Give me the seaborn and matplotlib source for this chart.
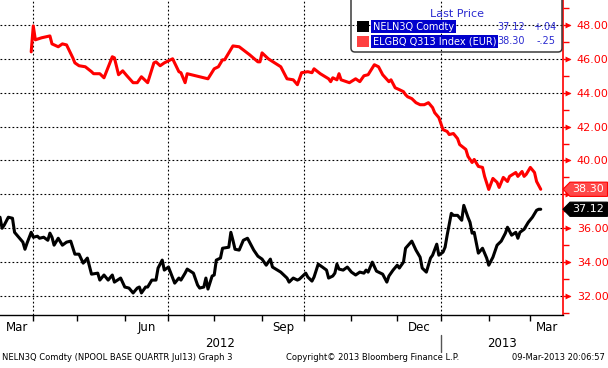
import numpy as np
import pandas as pd
import matplotlib
matplotlib.use("Agg")
import matplotlib.pyplot as plt
import matplotlib.transforms as mtransforms
from matplotlib.patches import FancyBboxPatch, Polygon, Rectangle
import seaborn as sns

# ---------------- data ----------------
START = "2012-03-09"          # first trading day shown (x = trading-day number since START)
END_PAD_DAYS = 270.7          # right edge of the axis in trading days

neln_day = [0, 1, 2, 4, 6, 7, 9, 11, 12, 13, 15, 16, 18, 19, 21, 23, 24, 25, 26, 28,
            30, 32, 34, 36, 38, 40, 42, 44, 47, 48, 50, 52, 54, 55, 58, 60, 62, 64, 66, 67,
            68, 70, 71, 73, 75, 76, 78, 79, 81, 84, 86, 87, 89, 90, 93, 95, 96, 98, 99, 100,
            102, 103, 104, 106, 107, 110, 111, 112, 113, 115, 117, 119, 120, 122, 124, 126, 128, 130, 131, 135,
            137, 138, 139, 141, 143, 144, 147, 148, 150, 151, 153, 155, 157, 158, 160, 161, 162, 163, 165, 167,
            169, 171, 173, 175, 176, 177, 179, 181, 183, 184, 186, 187, 189, 191, 192, 194, 195, 198, 200, 202,
            203, 205, 207, 208, 210, 211, 213, 214, 215, 217, 218, 220, 222, 223, 225, 226, 227, 228, 230, 232,
            234, 235, 237, 239, 241, 243, 244, 246, 248, 249, 250, 252, 254, 256, 258, 259, 260]
neln_price = [36.65, 36.00, 36.18, 36.65, 36.59, 35.76, 35.47, 35.18, 34.76, 35.12, 35.76, 35.47, 35.53, 35.41, 35.47, 35.29, 35.71, 35.47, 35.00, 35.41,
              35.00, 35.18, 35.24, 34.47, 34.47, 33.94, 34.24, 33.29, 33.35, 32.94, 33.24, 32.94, 33.24, 32.82, 33.06, 32.53, 32.47, 32.18, 32.47, 32.53,
              32.18, 32.53, 32.53, 32.94, 32.94, 33.65, 34.12, 33.53, 33.71, 32.76, 33.06, 32.94, 33.35, 33.59, 33.35, 32.65, 32.47, 32.53, 33.06, 32.41,
              33.18, 33.24, 34.12, 34.24, 34.82, 34.88, 35.76, 35.29, 34.76, 34.71, 35.29, 35.41, 35.18, 34.71, 34.35, 34.18, 33.82, 34.18, 33.71, 33.41,
              33.18, 33.06, 32.82, 33.06, 32.94, 33.00, 33.35, 33.12, 32.88, 33.12, 33.88, 33.71, 33.53, 33.06, 33.18, 33.35, 33.88, 33.59, 33.53, 33.71,
              33.41, 33.24, 33.41, 33.35, 33.53, 33.41, 34.00, 33.47, 33.35, 33.29, 32.82, 33.18, 33.53, 33.82, 33.65, 34.00, 34.82, 35.24, 34.71, 34.29,
              33.65, 33.41, 34.24, 34.41, 35.06, 34.41, 34.59, 34.88, 35.59, 36.88, 36.76, 36.76, 36.47, 37.35, 36.65, 36.35, 35.71, 35.76, 34.53, 34.82,
              34.24, 33.82, 34.29, 35.00, 35.24, 35.71, 36.06, 35.59, 35.76, 35.41, 35.76, 35.94, 36.35, 36.65, 37.06, 37.12, 37.12]

elgb_day = [15, 16, 17, 20, 24, 25, 28, 30, 32, 35, 36, 38, 41, 44, 45, 48, 50, 54, 55, 57,
            59, 61, 64, 66, 68, 71, 74, 75, 77, 79, 83, 86, 87, 89, 90, 100, 103, 105, 107, 108,
            112, 115, 120, 124, 125, 126, 129, 135, 138, 141, 143, 145, 148, 150, 151, 154, 158, 159, 160, 162,
            163, 164, 168, 171, 173, 175, 177, 180, 182, 184, 187, 188, 190, 192, 194, 195, 196, 198, 200, 202,
            204, 206, 208, 209, 211, 213, 215, 216, 218, 220, 221, 224, 225, 227, 228, 230, 232, 233, 235, 237,
            239, 240, 242, 244, 245, 248, 249, 251, 252, 253, 255, 257, 258, 259, 260]
elgb_price = [46.41, 47.94, 47.12, 47.24, 47.35, 46.88, 46.71, 46.88, 46.82, 46.06, 45.76, 45.59, 45.53, 45.24, 45.12, 45.12, 44.88, 46.12, 46.06, 45.06,
              45.29, 45.00, 44.59, 44.59, 44.94, 44.59, 45.76, 45.82, 45.59, 45.76, 46.00, 45.24, 45.18, 44.59, 45.12, 44.82, 45.41, 45.53, 45.94, 45.94,
              46.76, 46.71, 46.24, 45.82, 45.82, 46.35, 46.00, 45.53, 44.82, 44.76, 44.47, 45.18, 45.24, 45.18, 45.41, 45.12, 44.82, 44.65, 44.88, 44.76,
              45.12, 44.76, 44.59, 44.82, 44.65, 45.00, 45.06, 45.65, 45.53, 45.06, 44.65, 44.76, 44.29, 44.18, 44.06, 43.88, 43.76, 43.65, 43.41, 43.29,
              43.29, 43.41, 43.12, 42.82, 42.53, 41.82, 41.71, 41.53, 41.59, 41.29, 40.94, 40.65, 40.24, 39.88, 40.06, 39.65, 39.59, 39.06, 38.29, 38.94,
              38.71, 38.41, 39.00, 38.76, 39.06, 39.29, 39.06, 39.35, 39.06, 39.18, 39.59, 39.29, 38.76, 38.53, 38.30]

series_names = ["NELN3Q Comdty", "ELGBQ Q313 Index (EUR)"]
series_colors = ["black", "red"]
legend_square_colors = ["black", "#ff4040"]
last_price = [37.12, 38.30]
net_change = ["+.04", "-.25"]
tag_fill = ["black", "#ff4848"]

y_major = [32, 34, 36, 38, 40, 42, 44, 46, 48]
y_hidden = [38]               # label hidden behind the last-price tag in the original
y_minor = [31, 33, 35, 37, 39, 41, 43, 45, 47, 49]

month_starts = ["2012-04-01", "2012-05-01", "2012-06-01", "2012-07-01", "2012-08-01", "2012-09-01",
                "2012-10-01", "2012-11-01", "2012-12-01", "2013-01-01", "2013-02-01", "2013-03-01"]
grid_months = ["2012-04-01", "2012-07-01", "2012-10-01", "2013-01-01"]
month_labels = ["Mar", "Jun", "Sep", "Dec", "Mar"]
month_spans = [("2012-03-01", "2012-04-01"), ("2012-06-01", "2012-07-01"), ("2012-09-01", "2012-10-01"),
               ("2012-12-01", "2013-01-01"), ("2013-03-01", "2013-04-01")]
year_labels = ["2012", "2013"]
year_spans = [("2012-01-01", "2013-01-01"), ("2013-01-01", "2014-01-01")]

footer_left = "NELN3Q Comdty (NPOOL BASE QUARTR Jul13) Graph 3"
footer_mid = "Copyright\u00a9 2013 Bloomberg Finance L.P."
footer_right = "09-Mar-2013 20:06:57"

# ---------------- helpers ----------------
def tday(d):
    return float(np.busday_count(np.datetime64(START), np.datetime64(d)))

# ---------------- style ----------------
sns.set_theme(style="white")
plt.rcParams["font.family"] = ["DejaVu Sans"]

W, H = 608, 368
fig = plt.figure(figsize=(W / 100, H / 100), dpi=100)
fig.patch.set_facecolor("white")
ax = fig.add_axes([0, 1 - 315 / H, 563 / W, 315 / H])
ax.set_facecolor("white")

df = pd.concat([
    pd.DataFrame({"day": neln_day, "price": neln_price, "series": series_names[0]}),
    pd.DataFrame({"day": elgb_day, "price": elgb_price, "series": series_names[1]}),
])
sns.lineplot(data=df, x="day", y="price", hue="series", hue_order=series_names,
             palette=dict(zip(series_names, series_colors)), linewidth=2.2,
             estimator=None, sort=False, legend=False, ax=ax, zorder=3)

XMIN, XMAX = 0.0, END_PAD_DAYS
ax.set_xlim(XMIN, XMAX)
ax.set_ylim(30.88, 49.47)
ax.set_xlabel("")
ax.set_ylabel("")

# spines
for s in ["left", "top"]:
    ax.spines[s].set_visible(False)
ax.spines["bottom"].set_color("black")
ax.spines["bottom"].set_linewidth(1.0)
ax.spines["right"].set_color("red")
ax.spines["right"].set_linewidth(1.2)

# grid
dot = (0, (1.6, 2.0))
for v in y_major:
    ax.axhline(v, color="black", lw=0.8, ls=dot, zorder=1)
for d in grid_months:
    ax.axvline(tday(d), color="black", lw=0.8, ls=dot, zorder=1)

# y axis on the right
ax.yaxis.tick_right()
ax.set_yticks(y_major)
ax.set_yticklabels(["" if v in y_hidden else f"{v:.2f}" for v in y_major])
ax.set_yticks(y_minor, minor=True)
ax.tick_params(axis="y", which="major", right=True, left=False, length=5, width=1,
               color="red", labelcolor="red", labelsize=8, pad=5)
ax.tick_params(axis="y", which="minor", right=True, left=False, length=4, width=1, color="red")
arrow_tr = mtransforms.blended_transform_factory(ax.transAxes, ax.transData)
ax.scatter([567.5 / 563] * len(y_major), y_major, transform=arrow_tr, marker=">", s=18,
           color="red", clip_on=False, zorder=6, linewidths=0)

# x axis
ax.set_xticks([tday(d) for d in month_starts])
ax.tick_params(axis="x", which="major", bottom=True, length=4, width=1, color="black",
               labelbottom=False)
lab_tr = mtransforms.blended_transform_factory(ax.transData, ax.transAxes)
for lab, (a, b) in zip(month_labels, month_spans):
    xa, xb = max(tday(a), XMIN), min(tday(b), XMAX)
    ax.text((xa + xb) / 2, -0.041, lab, transform=lab_tr, ha="center", va="center",
            fontsize=8.5, color="black", clip_on=False)
for lab, (a, b) in zip(year_labels, year_spans):
    xa, xb = max(tday(a), XMIN), min(tday(b), XMAX)
    ax.text((xa + xb) / 2, -0.089, lab, transform=lab_tr, ha="center", va="center",
            fontsize=8.5, color="black", clip_on=False)
ax.plot([tday("2013-01-01")] * 2, [-0.063, -0.118], transform=lab_tr, color="#555555",
        lw=1, clip_on=False)

# pixel transform (x from left, y from top)
T = mtransforms.Affine2D().scale(1, -1).translate(0, H)

# legend box
fig.add_artist(FancyBboxPatch((351, -6), 211, 58, boxstyle="round,pad=0,rounding_size=4",
                              transform=T, fc="none", ec="#3a3a3a", lw=1.1, zorder=5))
fig.text(457, 14, "Last Price", transform=T, ha="center", va="center", color="#2a2ad0",
         fontsize=8)
for i, (name, sq, lp, ch) in enumerate(zip(series_names, legend_square_colors, last_price, net_change)):
    yc = 26.5 + 15 * i
    fig.add_artist(Rectangle((357, yc - 5.5), 12, 11, transform=T, fc=sq, ec="none"))
    fig.text(373, yc, name, transform=T, ha="left", va="center", color="white", fontsize=7,
             bbox=dict(boxstyle="square,pad=0.18", fc="#0000cc", ec="none"))
    fig.text(525, yc, f"{lp:.2f}", transform=T, ha="right", va="center", color="#2a2ad0",
             fontsize=7)
    fig.text(556, yc, ch, transform=T, ha="right", va="center", color="#2a2ad0", fontsize=7)

# last price tags on the right axis
tag_tr = mtransforms.blended_transform_factory(mtransforms.IdentityTransform(), ax.transData)
hh = 0.42
for lp, fc, ec in zip(last_price, tag_fill, ["black", "red"]):
    pts = [(563, lp), (570, lp + hh), (607.5, lp + hh), (607.5, lp - hh), (570, lp - hh)]
    fig.add_artist(Polygon(pts, closed=True, transform=tag_tr, fc=fc, ec=ec, lw=0.8, zorder=7))
    fig.text(588.5, lp, f"{lp:.2f}", transform=tag_tr, ha="center", va="center", color="white",
             fontsize=8, zorder=8)

# footer
fig.text(2, 358, footer_left, transform=T, ha="left", va="center", fontsize=6, color="black")
fig.text(373, 358, footer_mid, transform=T, ha="center", va="center", fontsize=6, color="black")
fig.text(605, 358, footer_right, transform=T, ha="right", va="center", fontsize=6, color="black")

fig.savefig("out.png", dpi=100)
